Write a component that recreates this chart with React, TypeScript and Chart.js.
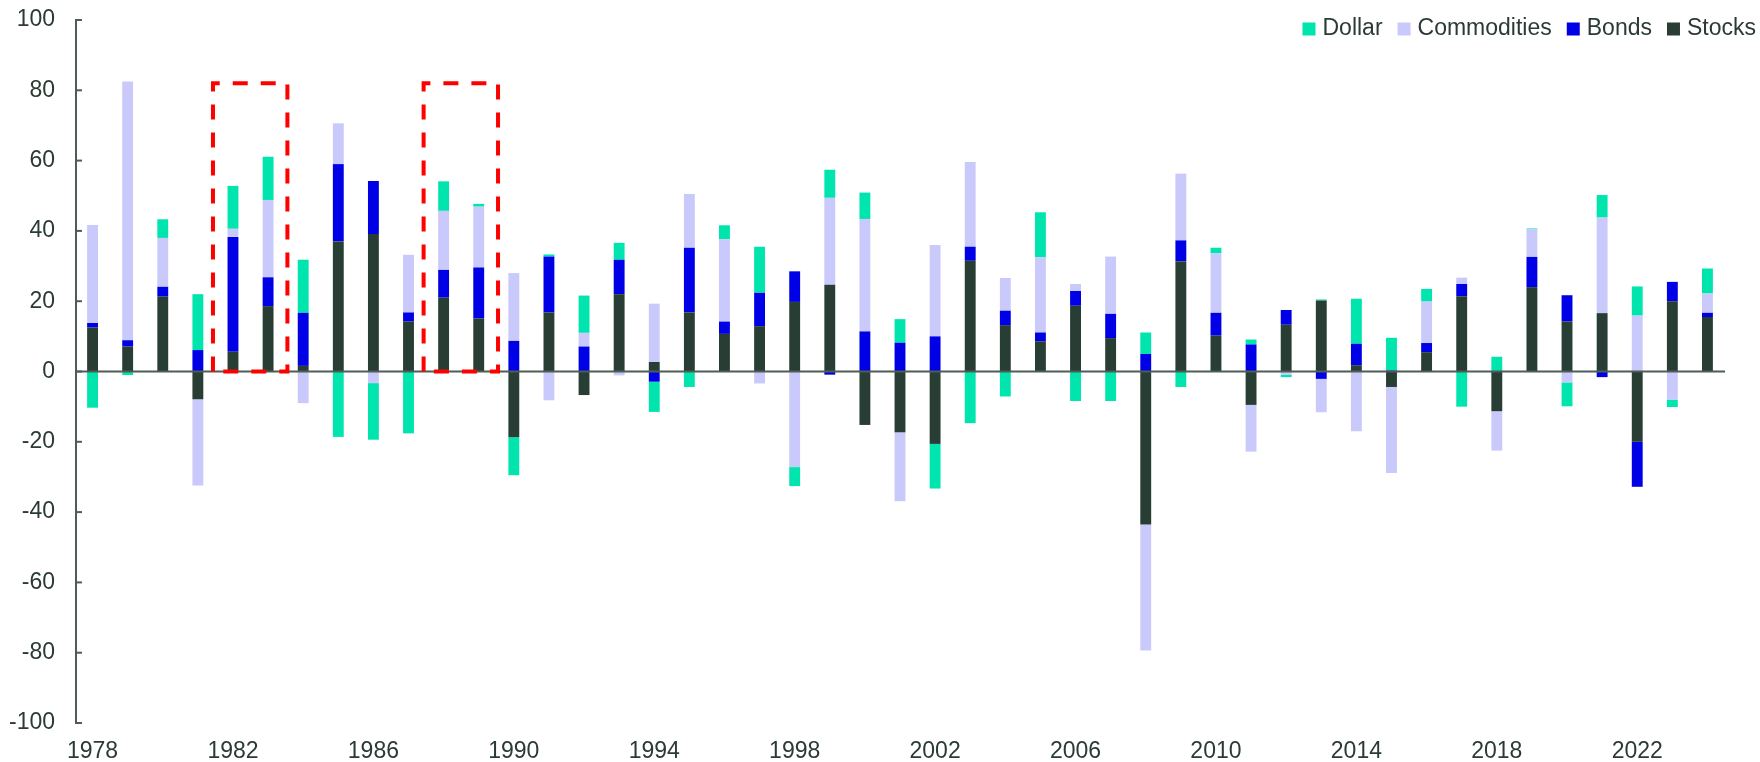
import React, { useEffect, useRef } from "react";
import { Chart, registerables } from "chart.js";

Chart.register(...registerables);

const years = [
  "1978", "1979", "1980", "1981", "1982", "1983", "1984", "1985", "1986", "1987",
  "1988", "1989", "1990", "1991", "1992", "1993", "1994", "1995", "1996", "1997",
  "1998", "1999", "2000", "2001", "2002", "2003", "2004", "2005", "2006", "2007",
  "2008", "2009", "2010", "2011", "2012", "2013", "2014", "2015", "2016", "2017",
  "2018", "2019", "2020", "2021", "2022", "2023", "2024",
];

const stocks = [
  12.5, 7.1, 21.3, -7.9, 5.6, 18.6, 1.6, 37.0, 39.1, 14.2,
  21.0, 15.1, -18.7, 16.8, -6.7, 22.0, 2.7, 16.8, 10.7, 12.9,
  19.8, 24.7, -15.2, -17.3, -20.6, 31.5, 13.2, 8.6, 18.7, 9.5,
  -43.5, 31.4, 10.2, -9.5, 13.3, 20.2, 1.8, -4.4, 5.5, 21.4,
  -11.3, 24.0, 14.2, 16.6, -20.0, 20.0, 15.5,
];

const bonds = [
  1.3, 1.8, 2.8, 6.1, 32.7, 8.2, 15.1, 22.0, 15.1, 2.6,
  7.9, 14.5, 8.7, 15.9, 7.1, 9.8, -2.9, 18.4, 3.5, 9.5,
  8.7, -0.9, 11.4, 8.2, 10.0, 4.0, 4.1, 2.5, 4.2, 6.9,
  5.0, 5.9, 6.5, 7.7, 4.2, -2.1, 6.1, 0.3, 2.6, 3.5,
  0, 8.6, 7.5, -1.6, -12.8, 5.5, 1.2,
];

const commodities = [
  27.9, 73.6, 13.9, -24.5, 2.3, 22.0, -9.0, 11.6, -3.3, 16.4,
  16.8, 17.3, 19.3, -8.2, 3.9, -1.1, 16.6, 15.3, 23.4, -3.4,
  -27.2, 24.7, 32.0, -19.6, 26.0, 24.1, 9.3, 21.4, 2.0, 16.3,
  -35.9, 19.0, 16.9, -13.3, -1.0, -9.5, -17.0, -24.5, 11.8, 1.8,
  -11.2, 7.9, -3.1, 27.2, 15.9, -8.0, 5.5,
];

const dollar = [
  -10.3, -1.0, 5.3, 15.9, 12.2, 12.3, 15.1, -18.6, -16.1, -17.6,
  8.4, 0.8, -10.8, 0.6, 10.6, 4.8, -8.6, -4.4, 4.0, 13.1,
  -5.4, 8.0, 7.5, 6.7, -12.7, -14.7, -7.1, 12.8, -8.4, -8.4,
  6.1, -4.4, 1.6, 1.4, -0.6, 0.3, 12.8, 9.3, 3.6, -10.0,
  4.2, 0.2, -6.8, 6.4, 8.3, -2.1, 7.1,
];

const yMin = -100;
const yMax = 100;
const yStep = 20;
const labelEvery = 4;

const highlightFrom = ["1982", "1988"];
const highlightTo = ["1983", "1989"];
const highlightTop = [82, 82];

const TEXT = "#2b3b33";
const AXIS = "#4e5d55";
const FONT = "'Liberation Sans', Arial, sans-serif";
const FONT_SIZE = 23;

const overlay = {
  id: "overlay",
  afterDatasetsDraw(chart: any) {
    const { ctx, chartArea } = chart;
    const x = chart.scales.x;
    const y = chart.scales.y;
    ctx.save();
    const y0 = y.getPixelForValue(0);
    ctx.strokeStyle = AXIS;
    ctx.lineWidth = 2;
    ctx.beginPath();
    ctx.moveTo(chartArea.left, y0);
    ctx.lineTo(chartArea.right, y0);
    ctx.stroke();
    const ax = chartArea.left + 1;
    ctx.beginPath();
    ctx.moveTo(ax, y.getPixelForValue(yMax));
    ctx.lineTo(ax, y.getPixelForValue(yMin));
    ctx.stroke();
    y.ticks.forEach((t: any) => {
      const py = y.getPixelForValue(t.value);
      ctx.beginPath();
      ctx.moveTo(ax - 1, py);
      ctx.lineTo(ax + 6, py);
      ctx.stroke();
    });
    const step = x.getPixelForValue(1) - x.getPixelForValue(0);
    ctx.strokeStyle = "#ff0000";
    ctx.lineWidth = 4;
    ctx.setLineDash([15, 13]);
    for (let i = 0; i < highlightFrom.length; i++) {
      const l = x.getPixelForValue(years.indexOf(highlightFrom[i])) - 0.57 * step;
      const r = x.getPixelForValue(years.indexOf(highlightTo[i])) + 0.55 * step;
      const t = y.getPixelForValue(highlightTop[i]);
      ctx.beginPath();
      ctx.moveTo(l, y0);
      ctx.lineTo(l, t);
      ctx.lineTo(r, t);
      ctx.lineTo(r, y0);
      ctx.lineTo(l, y0);
      ctx.stroke();
    }
    ctx.restore();
  },
  afterDraw(chart: any) {
    const { ctx } = chart;
    ctx.save();
    ctx.font = `${FONT_SIZE}px ${FONT}`;
    ctx.textBaseline = "middle";
    ctx.textAlign = "left";
    const items = chart.data.datasets.slice().reverse();
    const box = 13;
    const gapBox = 7;
    const gapItem = 15;
    let total = 0;
    const widths = items.map((d: any) => ctx.measureText(d.label).width);
    widths.forEach((w: number, i: number) => {
      total += box + gapBox + w + (i < widths.length - 1 ? gapItem : 0);
    });
    let cx = chart.width - 4 - total;
    const cy = 29;
    items.forEach((d: any, i: number) => {
      ctx.fillStyle = d.backgroundColor;
      ctx.fillRect(cx, cy - box / 2, box, box);
      cx += box + gapBox;
      ctx.fillStyle = TEXT;
      ctx.fillText(d.label, cx, cy);
      cx += widths[i] + gapItem;
    });
    ctx.restore();
  },
};

export default function App() {
  const ref = useRef<HTMLCanvasElement>(null);
  useEffect(() => {
    document.body.style.margin = "0";
    const canvas = ref.current;
    if (!canvas) return;
    const mk = (label: string, data: number[], color: string) => ({
      label,
      data,
      backgroundColor: color,
      borderWidth: 0,
      barPercentage: 0.31,
      categoryPercentage: 1,
    });
    const chart = new Chart(canvas, {
      type: "bar",
      data: {
        labels: years,
        datasets: [
          mk("Stocks", stocks, "#283d33"),
          mk("Bonds", bonds, "#0000e6"),
          mk("Commodities", commodities, "#c9c9fb"),
          mk("Dollar", dollar, "#00e5ae"),
        ],
      },
      options: {
        animation: false,
        responsive: false,
        layout: { padding: { top: 20, right: 35, left: 0, bottom: 0 } },
        plugins: {
          legend: { display: false },
          tooltip: { enabled: false },
        },
        scales: {
          x: {
            stacked: true,
            grid: { display: false, drawTicks: false },
            border: { display: false },
            ticks: {
              autoSkip: false,
              maxRotation: 0,
              padding: 15,
              color: TEXT,
              font: { family: FONT, size: FONT_SIZE },
              callback: (_v: any, i: number) => (i % labelEvery === 0 ? years[i] : null),
            },
            afterFit: (s: any) => {
              s.height = 39;
            },
          },
          y: {
            stacked: true,
            min: yMin,
            max: yMax,
            grid: { display: false, drawTicks: false },
            border: { display: false },
            ticks: {
              stepSize: yStep,
              padding: 20,
              color: TEXT,
              font: { family: FONT, size: FONT_SIZE },
            },
            afterFit: (s: any) => {
              s.width = 75;
              s.paddingTop = 0;
              s.paddingBottom = 0;
            },
          },
        },
      },
      plugins: [overlay],
    });
    return () => chart.destroy();
  }, []);
  return (
    <div style={{ width: 1760, height: 762 }}>
      <canvas ref={ref} width={1760} height={762} style={{ display: "block" }} />
    </div>
  );
}
